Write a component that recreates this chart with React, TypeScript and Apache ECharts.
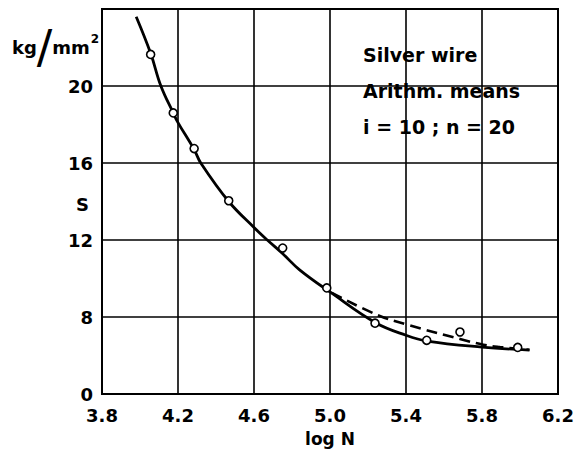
import React, { useEffect, useRef } from "react";
import * as echarts from "echarts";

// Solid fitted curve (log N, S in kg/mm²)
const solidX = [3.98, 4.056, 4.11, 4.175, 4.2, 4.285, 4.32, 4.467, 4.6, 4.67, 4.75, 4.84, 5.0, 5.24, 5.4, 5.51, 5.8, 6.05];
const solidS = [23.6, 21.7, 20.0, 18.6, 18.1, 16.7, 16.0, 14.0, 12.65, 12.0, 11.3, 10.45, 9.3, 7.7, 7.05, 6.75, 6.44, 6.28];

// Dashed curve
const dashedX = [5.01, 5.246, 5.404, 5.684, 5.807, 5.895, 6.05];
const dashedS = [9.25, 8.12, 7.61, 6.86, 6.56, 6.44, 6.3];

// Measured points (open circles)
const pointX = [4.056, 4.175, 4.285, 4.467, 4.751, 4.983, 5.237, 5.509, 5.684, 5.988];
const pointS = [21.64, 18.6, 16.75, 14.04, 11.58, 9.51, 7.68, 6.79, 7.22, 6.42];

// Axis ticks
const xMin = 3.8, xMax = 6.2, xStep = 0.4;
const yMin = 4, yMax = 24, yStep = 4;
const yZeroLabel = "0";

const legendLines = ["Silver wire", "Arithm. means", "i = 10 ; n = 20"];

const FONT = "DejaVu Sans";

export default function App() {
  const ref = useRef<HTMLDivElement>(null);
  useEffect(() => {
    if (!ref.current) return;
    const chart = echarts.init(ref.current, undefined, { renderer: "svg" });
    const zip = (xs: number[], ys: number[]) => xs.map((x, i) => [x, ys[i]]);
    chart.setOption({
      animation: false,
      backgroundColor: "#fff",
      grid: { left: 102, right: 20, top: 9, bottom: 51, show: true, borderColor: "#000", borderWidth: 2 },
      xAxis: {
        type: "value",
        min: xMin,
        max: xMax,
        interval: xStep,
        name: "log N",
        nameLocation: "middle",
        nameGap: 36,
        nameTextStyle: { color: "#000", fontFamily: FONT, fontWeight: "bold", fontSize: 17 },
        axisLine: { show: true, lineStyle: { color: "#000", width: 2 } },
        axisTick: { show: false },
        axisLabel: {
          color: "#000", fontFamily: FONT, fontWeight: "bold", fontSize: 18, margin: 12,
          formatter: (v: number) => v.toFixed(1),
        },
        splitLine: { show: true, lineStyle: { color: "#000", width: 1.6 } },
      },
      yAxis: {
        type: "value",
        min: yMin,
        max: yMax,
        interval: yStep,
        axisLine: { show: true, lineStyle: { color: "#000", width: 2 } },
        axisTick: { show: false },
        axisLabel: {
          color: "#000", fontFamily: FONT, fontWeight: "bold", fontSize: 18, margin: 9,
          formatter: (v: number) => (v === yMin ? yZeroLabel : v === yMax ? "" : String(v)),
        },
        splitLine: { show: true, lineStyle: { color: "#000", width: 1.6 } },
      },
      graphic: [
        {
          type: "text",
          left: 76,
          top: 195,
          style: { text: "S", fontFamily: FONT, fontWeight: "bold", fontSize: 18, fill: "#000" },
        },
        {
          type: "text",
          left: 12,
          top: 24,
          style: {
            text: "{a|kg}{s|/}{a|mm}{p|2}",
            rich: {
              a: { fontFamily: FONT, fontWeight: "bold", fontSize: 18, fill: "#000", verticalAlign: "bottom", padding: [0, 0, 14, 0] },
              s: { fontFamily: FONT, fontWeight: "normal", fontSize: 46, fill: "#000", verticalAlign: "bottom" },
              p: { fontFamily: FONT, fontWeight: "bold", fontSize: 12, fill: "#000", verticalAlign: "bottom", padding: [0, 0, 25, 1] },
            },
          },
        },
        ...legendLines.map((t, i) => ({
          type: "text",
          left: 363,
          top: 45 + i * 36,
          style: { text: t, fontFamily: FONT, fontWeight: "bold", fontSize: 19, fill: "#000" },
        })),
      ],
      series: [
        {
          type: "line",
          data: zip(solidX, solidS),
          smooth: 0.4,
          symbol: "none",
          lineStyle: { color: "#000", width: 2.8 },
          z: 3,
        },
        {
          type: "line",
          data: zip(dashedX, dashedS),
          smooth: 0.4,
          symbol: "none",
          lineStyle: { color: "#000", width: 2.6, type: [11, 6] },
          z: 3,
        },
        {
          type: "scatter",
          data: zip(pointX, pointS),
          symbol: "circle",
          symbolSize: 8,
          itemStyle: { color: "#fff", borderColor: "#000", borderWidth: 1.6, opacity: 1 },
          z: 5,
        },
      ],
    });
    return () => chart.dispose();
  }, []);
  return <div ref={ref} style={{ position: "absolute", left: 0, top: 0, width: 578, height: 452 }} />;
}
